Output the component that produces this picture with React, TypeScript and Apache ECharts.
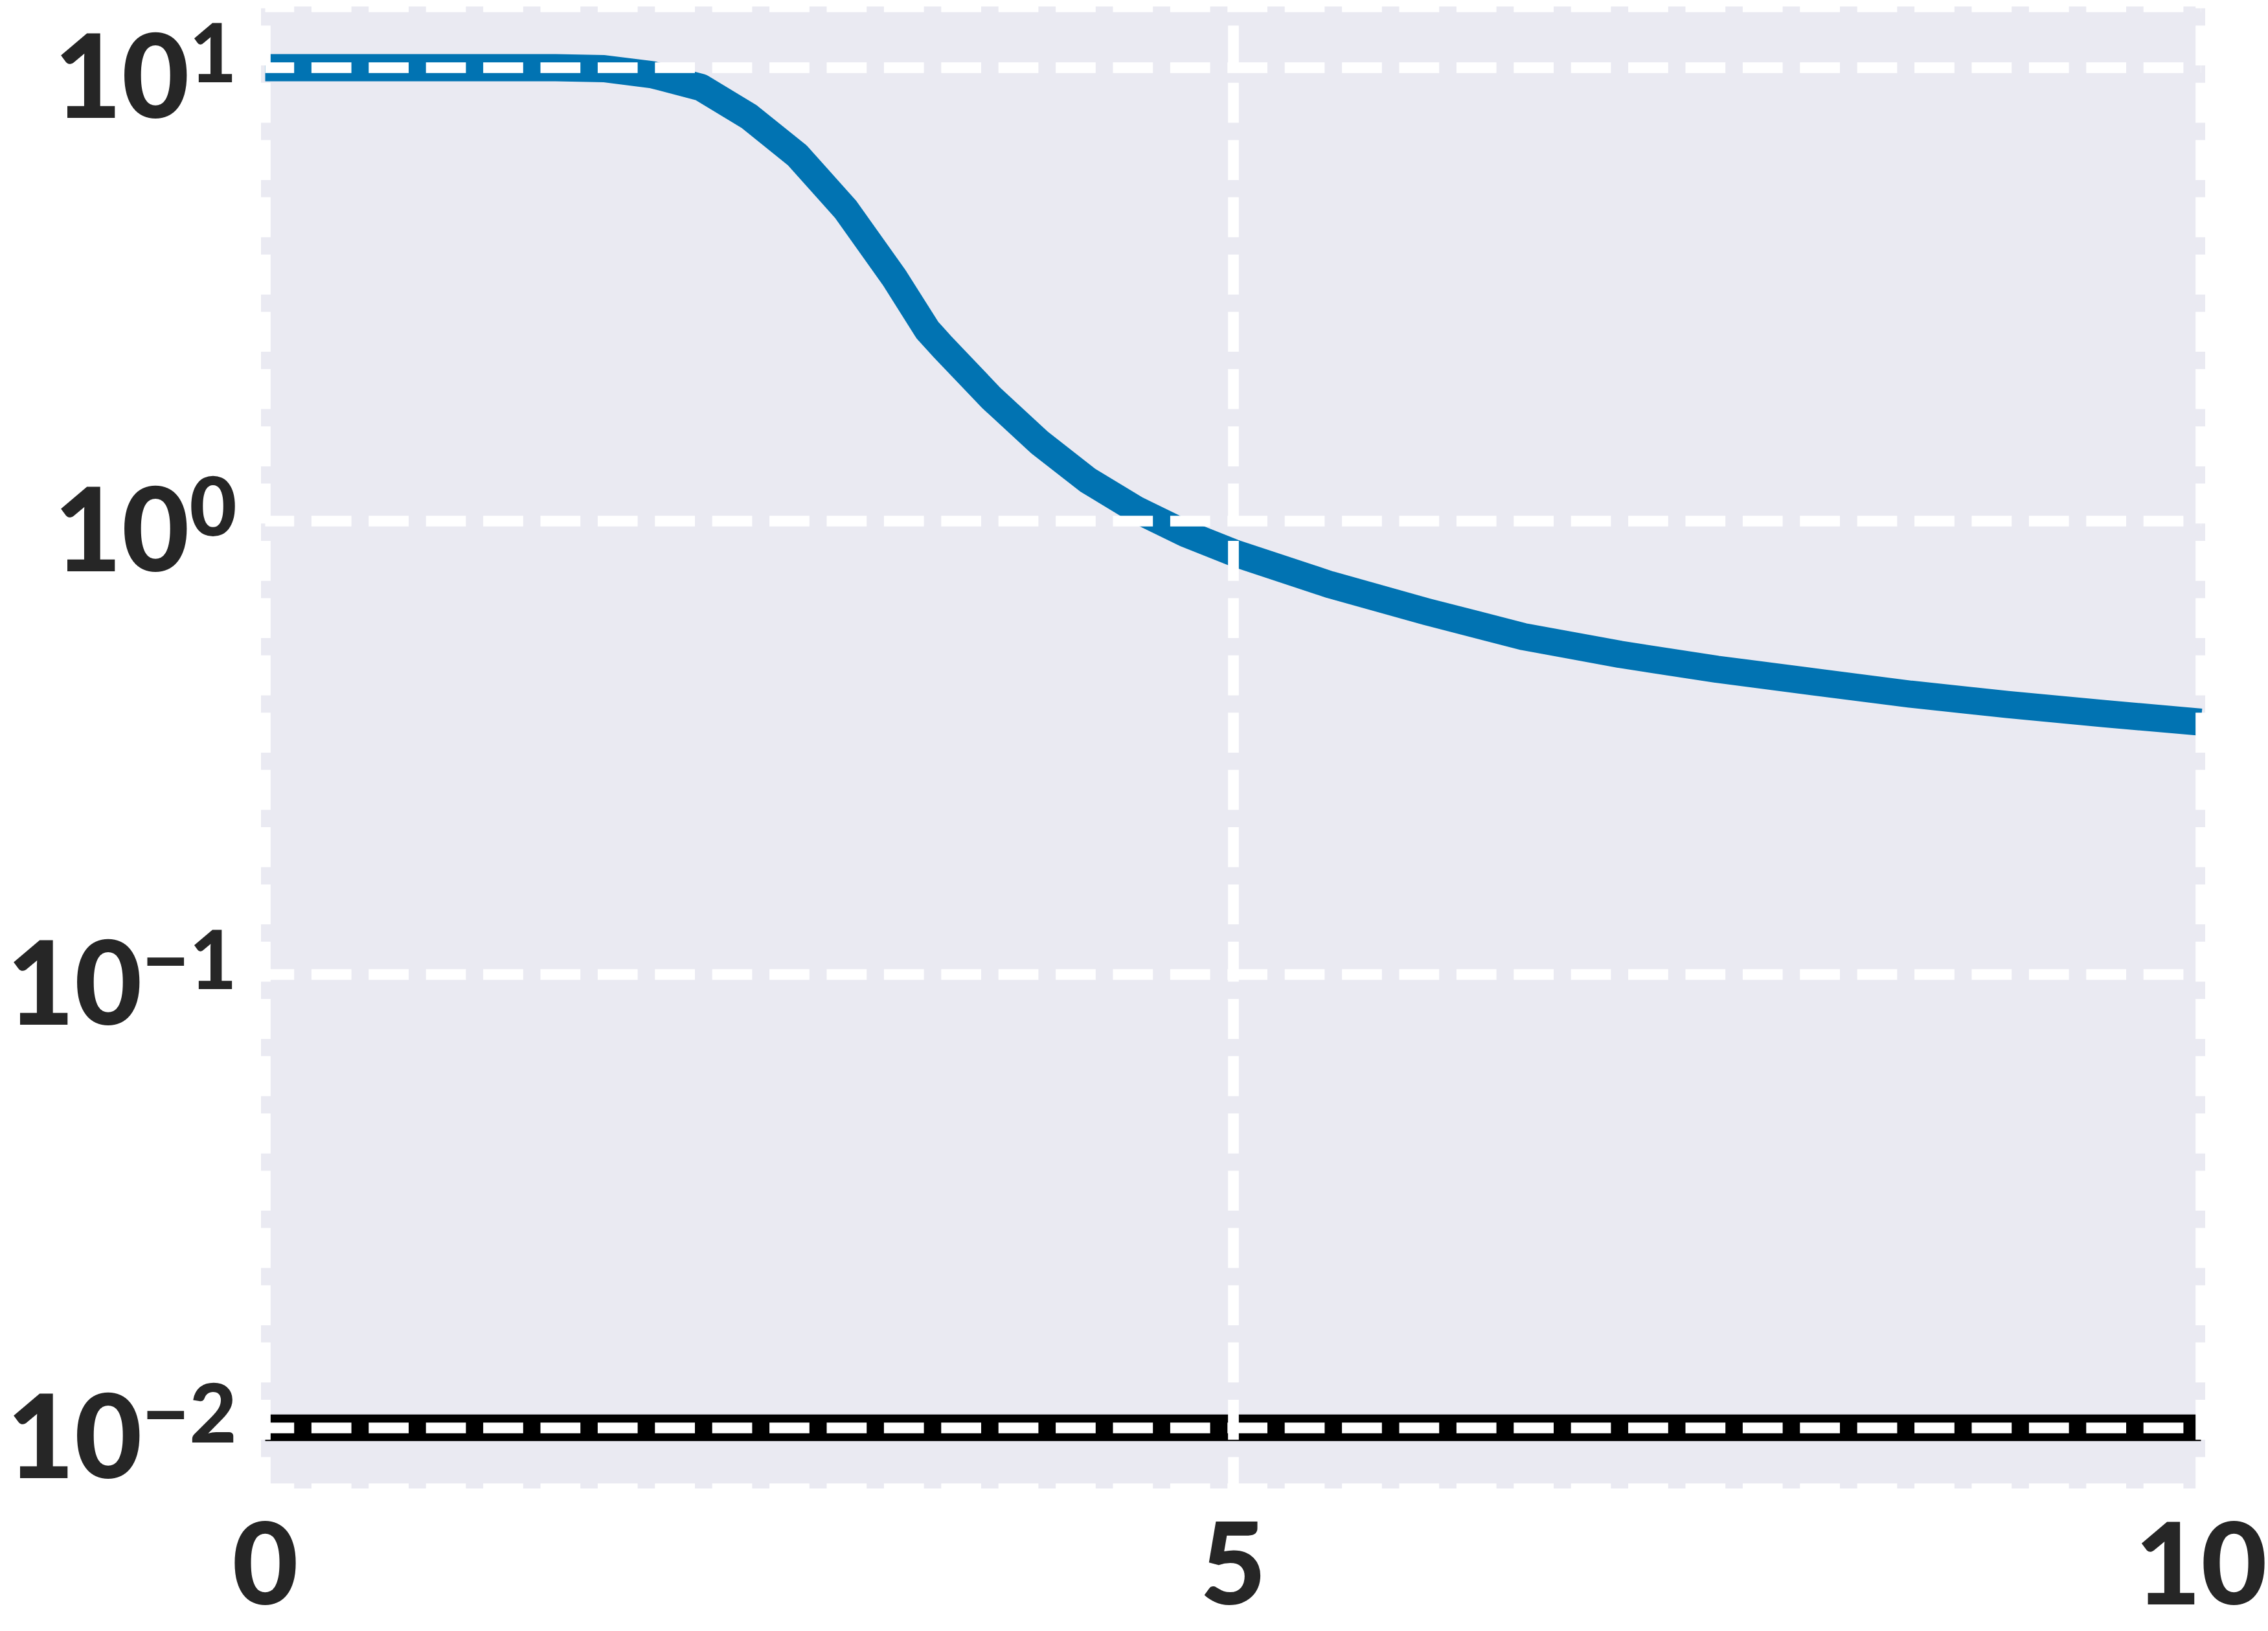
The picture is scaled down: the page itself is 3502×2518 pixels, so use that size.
import React, { useEffect, useRef } from "react";
import * as echarts from "echarts";

// ---- data ----
const xValues = [0, 0.5, 1, 1.5, 1.75, 2, 2.25, 2.5, 2.75, 3, 3.25, 3.42, 3.5, 3.75, 4, 4.25, 4.5, 4.75, 5, 5.5, 6, 6.5, 7, 7.5, 8, 8.5, 9, 9.5, 10];
const yValues = [10, 10, 10, 10, 9.95, 9.65, 9.05, 7.8, 6.4, 4.86, 3.44, 2.64, 2.42, 1.87, 1.49, 1.23, 1.06, 0.94, 0.852, 0.724, 0.631, 0.556, 0.508, 0.471, 0.442, 0.415, 0.394, 0.376, 0.36];

const refX = [0, 10];
const refY = [0.01, 0.01];

const xTicks = [0, 5, 10];
const yDecades = [-2, -1, 0, 1];
const yExpRange = [-2.134, 1.135];

const FONT = "Lato, 'DejaVu Sans', sans-serif";
const TEXT = "#262626";
const WEIGHT = 900;
const BASE = 180;
const SUP = 126;
const XSIZE = 176;

export default function App() {
  const ref = useRef<HTMLDivElement>(null);

  useEffect(() => {
    if (!ref.current) return;
    const chart = echarts.init(ref.current, undefined, { renderer: "svg" });

    const gridLine = (offset: number) => ({
      show: true,
      lineStyle: { color: "#ffffff", width: 16.7, type: [61.7, 26.7], dashOffset: offset },
    });

    const option: any = {
      animation: false,
      backgroundColor: "#ffffff",
      grid: {
        left: 409.5,
        right: 103.5,
        top: 10,
        bottom: 220,
        containLabel: false,
        outerBoundsMode: "none",
      },
      graphic: [
        {
          type: "rect",
          silent: true,
          z: -10,
          shape: { x: 403, y: 10, width: 3002, height: 2288 },
          style: { fill: "#EAEAF2" },
        },
      ],
      xAxis: {
        type: "value",
        min: xTicks[0],
        max: xTicks[xTicks.length - 1],
        interval: xTicks[1] - xTicks[0],
        z: 5,
        axisLine: { show: false, onZero: false },
        axisTick: { show: false },
        axisLabel: {
          margin: 22,
          fontSize: XSIZE,
          lineHeight: XSIZE,
          fontWeight: WEIGHT,
          fontFamily: FONT,
          color: TEXT,
          formatter: (v: number) => (xTicks.includes(v) ? String(v) : ""),
        },
        splitLine: gridLine(59),
      },
      yAxis: {
        type: "log",
        logBase: 10,
        min: Math.pow(10, yExpRange[0]),
        max: Math.pow(10, yExpRange[1]),
        z: 5,
        axisLine: { show: false },
        axisTick: { show: false },
        minorTick: { show: false },
        minorSplitLine: { show: false },
        axisLabel: {
          margin: 44,
          padding: [9, 0, 0, 0],
          color: TEXT,
          fontFamily: FONT,
          fontWeight: WEIGHT,
          fontSize: BASE,
          formatter: (v: number) => {
            const e = Math.log10(v);
            const r = Math.round(e);
            if (Math.abs(e - r) > 1e-6 || !yDecades.includes(r)) return "";
            const exp = r < 0 ? "\u2212" + Math.abs(r) : String(r);
            return `{b|10}{s|${exp}}`;
          },
          rich: {
            b: {
              fontSize: BASE,
              lineHeight: 187,
              fontWeight: WEIGHT,
              fontFamily: FONT,
              color: TEXT,
              verticalAlign: "bottom",
            },
            s: {
              fontSize: SUP,
              lineHeight: 40,
              fontWeight: WEIGHT,
              fontFamily: FONT,
              color: TEXT,
              verticalAlign: "top",
            },
          },
        },
        splitLine: gridLine(17.1),
      },
      series: [
        {
          type: "line",
          data: xValues.map((x, i) => [x, yValues[i]]),
          symbol: "none",
          showSymbol: false,
          smooth: false,
          z: 2,
          lineStyle: { color: "#0173B2", width: 42, cap: "butt", join: "round" },
        },
        {
          type: "line",
          data: refX.map((x, i) => [x, refY[i]]),
          symbol: "none",
          showSymbol: false,
          z: 2,
          lineStyle: { color: "#000000", width: 41, cap: "butt" },
        },
      ],
    };

    chart.setOption(option);
    return () => chart.dispose();
  }, []);

  return (
    <div
      ref={ref}
      style={{ position: "fixed", left: 0, top: 0, width: 3502, height: 2518 }}
    />
  );
}
